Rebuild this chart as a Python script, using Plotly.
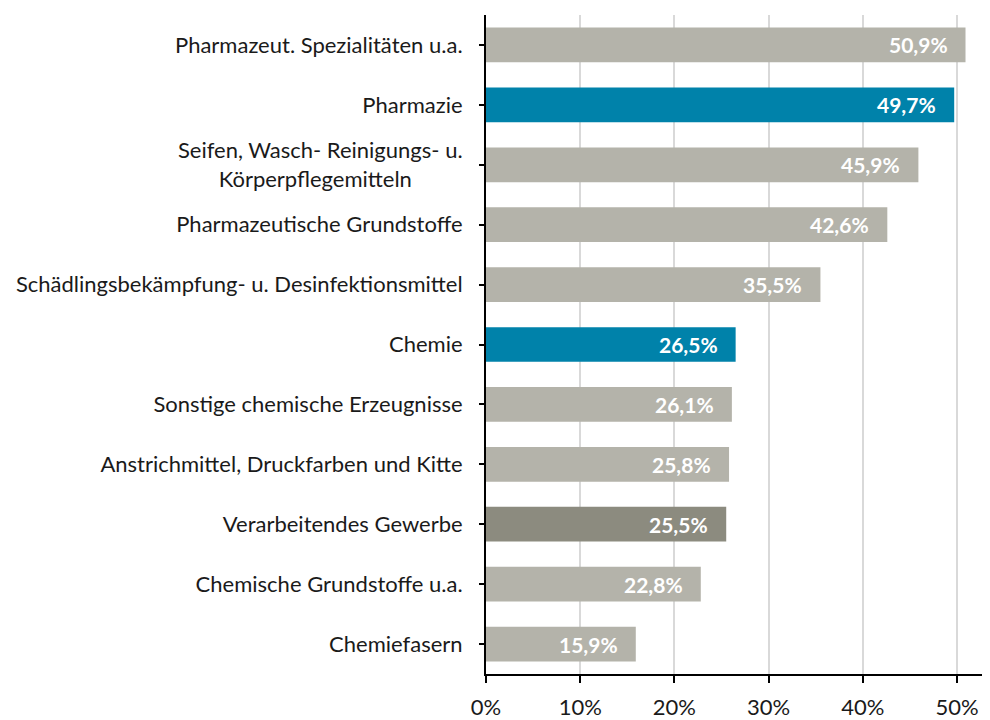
import plotly.graph_objects as go

NB = "\u00a0"
categories = [
    "Pharmazeut. Spezialitäten u.a.",
    "Pharmazie",
    "Seifen, Wasch- Reinigungs- u.<br>Körperpflegemitteln" + NB * 9,
    "Pharmazeutische Grundstoffe",
    "Schädlingsbekämpfung- u. Desinfektionsmittel",
    "Chemie",
    "Sonstige chemische Erzeugnisse",
    "Anstrichmittel, Druckfarben und Kitte",
    "Verarbeitendes Gewerbe",
    "Chemische Grundstoffe u.a.",
    "Chemiefasern",
]
values = [0.509, 0.497, 0.459, 0.426, 0.355, 0.265, 0.261, 0.258, 0.255, 0.228, 0.159]
value_labels = ["50,9%", "49,7%", "45,9%", "42,6%", "35,5%", "26,5%", "26,1%", "25,8%", "25,5%", "22,8%", "15,9%"]
bar_colors = ["#B4B3AA", "#0082AA", "#B4B3AA", "#B4B3AA", "#B4B3AA", "#0082AA",
              "#B4B3AA", "#B4B3AA", "#8C8B7F", "#B4B3AA", "#B4B3AA"]
x_tickvals = [0, 0.1, 0.2, 0.3, 0.4, 0.5]
x_ticktext = ["0%", "10%", "20%", "30%", "40%", "50%"]

FONT = "Lato"

fig = go.Figure()
fig.add_trace(go.Bar(
    y=categories, x=values, orientation="h",
    marker=dict(color=bar_colors, line=dict(width=0)),
    width=0.58,
    hoverinfo="skip",
))

for c, v, t in zip(categories, values, value_labels):
    fig.add_annotation(x=v, y=c, text="<b>" + t + "</b>", showarrow=False,
                       xanchor="right", yanchor="middle", xshift=-16,
                       font=dict(family=FONT, size=21, color="white"))

fig.update_layout(
    width=982, height=712,
    margin=dict(l=478, r=0, t=7, b=40),
    plot_bgcolor="white", paper_bgcolor="white",
    showlegend=False,
    font=dict(family=FONT, size=22, color="#1a1a1a"),
)
fig.update_yaxes(
    categoryorder="array", categoryarray=categories[::-1],
    autorange=False, range=[-0.5, len(categories) - 0.5],
    showline=True, linecolor="black", linewidth=2,
    ticks="outside", ticklen=5, tickcolor="black", tickwidth=1.5,
    ticklabelstandoff=12,
    showgrid=False, zeroline=False,
    tickfont=dict(family=FONT, size=22, color="#1a1a1a"),
)
fig.update_xaxes(
    range=[0, 0.535], tickvals=x_tickvals, ticktext=x_ticktext,
    showline=True, linecolor="black", linewidth=1.5,
    ticks="outside", ticklen=7, tickcolor="black", tickwidth=1.5,
    ticklabelstandoff=6,
    showgrid=True, gridcolor="#D9D9D9", gridwidth=1.5,
    zeroline=False,
    tickfont=dict(family=FONT, size=22, color="#1a1a1a"),
)

fig.write_html("out.html")
